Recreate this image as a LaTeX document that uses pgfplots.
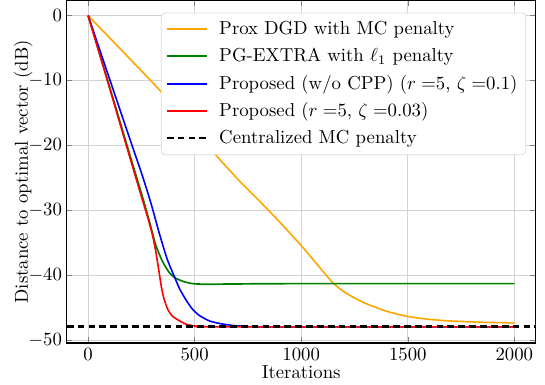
\documentclass[border=0pt]{standalone}
\usepackage{pgfplots}
\pgfplotsset{compat=1.18}
\begin{document}
\begin{tikzpicture}
\begin{axis}[
  name=ax,
  scale only axis,
  width=250pt, height=182.6pt,
  xmin=-100, xmax=2100,
  ymin=-50.4, ymax=2.3,
  xtick={0,500,1000,1500,2000},
  ytick={0,-10,-20,-30,-40,-50},
  tick align=inside,
  major tick length=3pt,
  minor tick num=0,
  grid=major,
  major grid style={gray!35, line width=0.5pt},
  axis line style={black, line width=0.7pt},
  every tick label/.append style={inner sep=2.4pt},
  xlabel={Iterations},
  ylabel={Distance to optimal vector (dB)},
  xlabel style={yshift=3pt},
  ylabel style={yshift=-8pt},
  scaled x ticks=false,
  xticklabel style={/pgf/number format/1000 sep={}},
  legend cell align=left,
  legend style={at={(0.98,0.965)}, anchor=north east, draw=gray!30, rounded corners=2pt, fill=white, row sep=1.7pt, inner sep=2.5pt},
  legend image code/.code={\draw[#1, line width=1.05pt] (0cm,0cm) -- (0.75cm,0cm);\path (0.75cm+4pt,0);},
]
\addplot[color={rgb,255:red,255;green,165;blue,0}, line width=0.85pt, smooth, tension=0.4] coordinates {
(0,0) (150,-5.1) (311,-10.6) (440,-15.3) (557,-19.9) (700,-25.1) (803,-28.5) (900,-31.8) (1000,-35.4) (1080,-38.5) (1145,-41.0) (1200,-42.5) (1288,-44.1) (1400,-45.5) (1500,-46.3) (1600,-46.75) (1700,-47.0) (1850,-47.2) (2000,-47.3)
};
\addlegendentry{Prox DGD with MC penalty}
\addplot[color={rgb,255:red,0;green,128;blue,0}, line width=0.9pt, smooth, tension=0.4] coordinates {
(0,0) (100,-10.9) (200,-21.9) (254,-27.8) (290,-32) (318,-35.4) (350,-37.9) (382,-39.6) (410,-40.4) (445,-40.9) (480,-41.2) (509,-41.3) (560,-41.35) (700,-41.3) (1000,-41.25) (2000,-41.25)
};
\addlegendentry{PG-EXTRA with $\ell_1$ penalty}
\addplot[color=blue, line width=0.85pt, smooth, tension=0.4] coordinates {
(0,0) (100,-9.7) (200,-19.4) (254,-24.6) (295,-28.9) (333,-33.4) (370,-37.4) (405,-40.2) (430,-42.1) (460,-43.8) (490,-45.2) (524,-46.2) (570,-47.0) (619,-47.4) (680,-47.7) (730,-47.8) (850,-47.9) (2000,-47.9)
};
\addlegendentry{Proposed (w/o CPP) ($r=$5, $\zeta=$0.1)}
\addplot[color=red, line width=0.85pt, smooth, tension=0.4] coordinates {
(0,0) (100,-11.1) (200,-22.3) (254,-28.3) (280,-31.1) (302,-33.8) (318,-36.4) (333,-39.5) (345,-42) (357,-43.7) (375,-45.3) (397,-46.3) (430,-47.0) (460,-47.5) (509,-47.8) (600,-47.9) (2000,-47.9)
};
\addlegendentry{Proposed ($r=$5, $\zeta=$0.03)}
\addplot[black, line width=1.2pt, dash pattern=on 3.6pt off 2.2pt] coordinates {(-100,-47.85) (2100,-47.85)};
\addlegendentry{Centralized MC penalty}
\end{axis}
\path (current bounding box.west) ++(-4pt,0) coordinate (padL);
\path (ax.east) ++(5pt,0) coordinate (padR);
\useasboundingbox (current bounding box.south -| padL) rectangle (current bounding box.north -| padR);
\end{tikzpicture}
\end{document}
